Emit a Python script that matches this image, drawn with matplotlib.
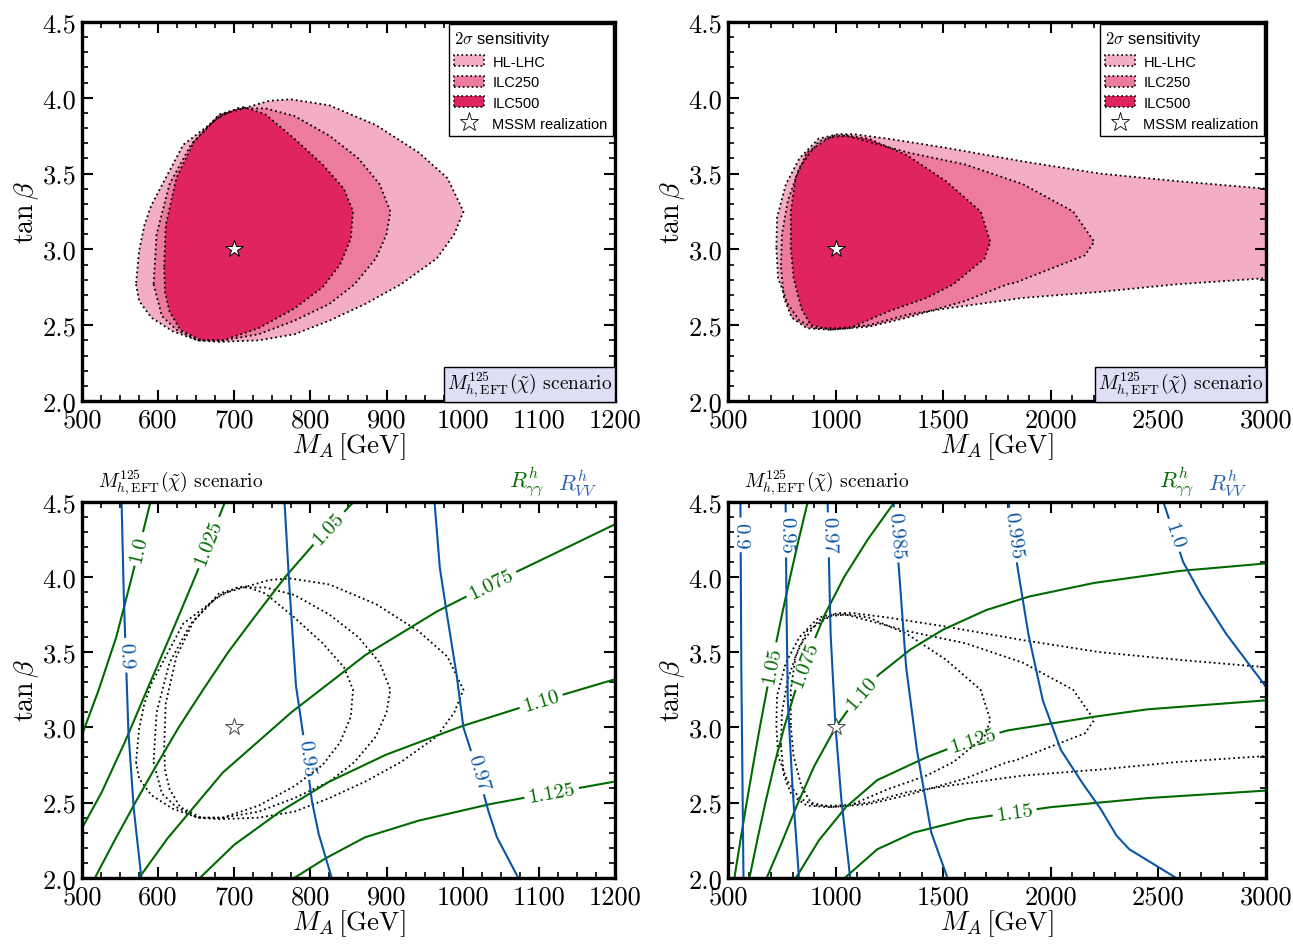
import numpy as np
import matplotlib
matplotlib.use('Agg')
import matplotlib.pyplot as plt
from matplotlib.patches import Polygon, Patch
from matplotlib.lines import Line2D
from matplotlib.contour import ContourSet
from matplotlib.ticker import MultipleLocator, FormatStrFormatter

plt.rcParams['font.family'] = 'serif'
plt.rcParams['font.serif'] = ['cmr10', 'DejaVu Serif']
plt.rcParams['mathtext.fontset'] = 'cm'
plt.rcParams['axes.formatter.use_mathtext'] = True

# colours
c_hl = '#f3adc4'
c_250 = '#ec7b9e'
c_500 = '#e0245f'
c_green = '#006a00'
c_blue = '#0a55a5'

# ---------------- data: MA = 700 GeV, tan(beta) = 3 ----------------
star_a = (700, 3.0)

hl_x_a = [571, 575, 591, 619, 652, 680, 732, 779, 825, 872, 919, 966, 989, 1001,
          980, 942, 886, 825, 774, 746, 685, 633, 591, 582, 575]
hl_y_a = [2.77, 2.66, 2.55, 2.46, 2.40, 2.39, 2.40, 2.44, 2.53, 2.64, 2.77, 2.94, 3.10, 3.25,
          3.47, 3.64, 3.82, 3.95, 3.99, 3.98, 3.89, 3.69, 3.29, 3.16, 2.99]

i250_x_a = [594, 605, 624, 652, 685, 732, 779, 825, 858, 886, 900, 905,
            891, 863, 825, 779, 741, 704, 676, 643, 615, 598]
i250_y_a = [2.77, 2.56, 2.47, 2.40, 2.40, 2.44, 2.53, 2.64, 2.77, 2.94, 3.10, 3.25,
            3.43, 3.60, 3.75, 3.88, 3.93, 3.93, 3.86, 3.69, 3.43, 3.10]

i500_x_a = [608, 609, 615, 629, 657, 685, 732, 779, 816, 839, 853, 856,
            844, 816, 779, 741, 713, 680, 647, 624, 610]
i500_y_a = [2.88, 2.72, 2.59, 2.47, 2.40, 2.40, 2.48, 2.61, 2.75, 2.90, 3.07, 3.25,
            3.40, 3.56, 3.73, 3.89, 3.94, 3.89, 3.71, 3.47, 3.16]

# R_gamgam and R_VV contour lines: level -> (MA values, tan(beta) values)
rgg_a = {
    1.0: ([590, 566, 545, 522, 500], [4.5, 4.01, 3.60, 3.25, 2.95]),
    1.025: ([688, 651, 622, 588, 557, 526, 500], [4.5, 4.03, 3.68, 3.28, 2.91, 2.57, 2.33]),
    1.05: ([857, 810, 767, 729, 692, 659, 627, 598, 570, 543, 517],
           [4.5, 4.25, 4.0, 3.75, 3.5, 3.25, 3.0, 2.75, 2.5, 2.25, 2.0]),
    1.075: ([1200, 1106, 1036, 966, 872, 775, 685, 612, 575],
            [4.35, 4.12, 3.95, 3.77, 3.48, 3.10, 2.70, 2.26, 2.0]),
    1.10: ([1200, 1100, 1000, 900, 825, 760, 700, 655], [3.32, 3.17, 3.01, 2.82, 2.64, 2.44, 2.22, 2.0]),
    1.125: ([1200, 1100, 1036, 942, 872, 820, 779], [2.64, 2.55, 2.49, 2.38, 2.27, 2.13, 2.0]),
}
rvv_a = {
    0.9: ([552, 555, 561, 568, 578], [4.5, 3.86, 2.97, 2.46, 2.0]),
    0.95: ([766, 772, 781, 792, 802, 811, 828], [4.5, 3.97, 3.28, 2.90, 2.51, 2.29, 2.0]),
    0.97: ([963, 970, 980, 992, 1001, 1020, 1034, 1045, 1073], [4.5, 4.06, 3.73, 3.35, 3.0, 2.70, 2.44, 2.27, 2.0]),
}
rgg_lab_a = [(572, 4.19), (666, 4.23), (825, 4.32), (1036, 3.97), (1102, 3.19), (1116, 2.59)]
rvv_lab_a = [(559, 3.48), (795, 2.80), (1020, 2.70)]

# ---------------- data: MA = 1000 GeV, tan(beta) = 3 ----------------
star_b = (1000, 3.0)

hl_x_b = [725, 733, 778, 832, 903, 1011, 1154, 1333, 1513, 1871, 2229, 2588, 3000,
          3000, 2588, 2229, 1871, 1513, 1244, 1082, 1011, 921, 832, 769, 728]
hl_y_b = [3.01, 2.81, 2.64, 2.53, 2.48, 2.48, 2.50, 2.57, 2.61, 2.68, 2.72, 2.77, 2.81,
          3.40, 3.45, 3.50, 3.58, 3.67, 3.73, 3.76, 3.76, 3.73, 3.60, 3.43, 3.21]

i250_x_b = [746, 760, 796, 867, 975, 1154, 1333, 1602, 1799, 1835, 1978, 2158, 2202,
            2104, 1871, 1602, 1333, 1154, 1047, 993, 921, 832, 778, 751]
i250_y_b = [2.88, 2.68, 2.55, 2.48, 2.47, 2.49, 2.55, 2.66, 2.77, 2.78, 2.86, 2.96, 3.05,
            3.25, 3.43, 3.56, 3.64, 3.71, 3.75, 3.75, 3.71, 3.54, 3.32, 3.10]

i500_x_b = [792, 805, 841, 885, 975, 1065, 1244, 1423, 1548, 1692, 1719,
            1674, 1513, 1333, 1154, 1056, 975, 867, 814, 792]
i500_y_b = [3.01, 2.81, 2.61, 2.50, 2.47, 2.48, 2.59, 2.68, 2.77, 2.94, 3.05,
            3.25, 3.45, 3.62, 3.73, 3.75, 3.74, 3.64, 3.47, 3.25]

rgg_b = {
    1.05: ([871, 829, 789, 751, 715, 681, 648, 617, 587, 558, 530],
           [4.5, 4.25, 4.0, 3.75, 3.5, 3.25, 3.0, 2.75, 2.5, 2.25, 2.0]),
    1.075: ([1275, 1150, 1040, 950, 878, 814, 761, 715, 674, 636, 600],
            [4.5, 4.25, 4.0, 3.75, 3.5, 3.25, 3.0, 2.75, 2.5, 2.25, 2.0]),
    1.10: ([3000, 2600, 2200, 1900, 1700, 1500, 1350, 1200, 1100, 1000, 900, 820, 740, 680],
           [4.09, 4.04, 3.96, 3.87, 3.78, 3.65, 3.52, 3.35, 3.20, 3.0, 2.74, 2.48, 2.20, 2.0]),
    1.125: ([3000, 2448, 2197, 1800, 1600, 1420, 1194, 1048, 923, 816],
            [3.18, 3.12, 3.07, 2.98, 2.90, 2.80, 2.65, 2.47, 2.25, 2.0]),
    1.15: ([3000, 2448, 2000, 1612, 1361, 1194, 1043], [2.58, 2.53, 2.47, 2.39, 2.30, 2.19, 2.0]),
}
rvv_b = {
    0.9: ([558, 562, 572], [4.5, 3.4, 2.0]),
    0.95: ([768, 772, 778, 800, 830], [4.5, 3.8, 3.18, 2.6, 2.0]),
    0.97: ([963, 977, 1000, 1027, 1068], [4.5, 3.62, 3.0, 2.52, 2.0]),
    0.985: ([1269, 1294, 1328, 1378, 1445, 1520], [4.5, 4.06, 3.40, 2.85, 2.30, 2.0]),
    0.995: ([1804, 1846, 1896, 1963, 2047, 2147, 2231, 2306, 2365, 2582],
            [4.5, 4.06, 3.62, 3.18, 2.85, 2.63, 2.46, 2.28, 2.19, 2.0]),
    1.0: ([2523, 2615, 2699, 2816, 3000], [4.5, 4.10, 3.88, 3.62, 3.27]),
}
rgg_lab_b = [(700, 3.42), (862, 3.42), (1127, 3.22), (1637, 2.93), (1830, 2.46)]
rvv_lab_b = [(560, 4.28), (772, 4.28), (968, 4.28), (1282, 4.28), (1828, 4.28), (2580, 4.28)]

scen_txt = r'$M_{h,\mathrm{EFT}}^{125}(\tilde{\chi})$ scenario'
lab_fmt = {0.9: '0.9', 0.95: '0.95', 0.97: '0.97', 0.985: '0.985', 0.995: '0.995', 1.0: '1.0',
           1.025: '1.025', 1.05: '1.05', 1.075: '1.075', 1.10: '1.10', 1.125: '1.125', 1.15: '1.15'}


def style_axes(ax, xmaj, xmin, xlim):
    ax.set_xlim(*xlim)
    ax.set_ylim(2.0, 4.5)
    ax.xaxis.set_major_locator(MultipleLocator(xmaj))
    ax.xaxis.set_minor_locator(MultipleLocator(xmin))
    ax.yaxis.set_major_locator(MultipleLocator(0.5))
    ax.yaxis.set_minor_locator(MultipleLocator(0.1))
    ax.xaxis.set_major_formatter(FormatStrFormatter('%d'))
    ax.yaxis.set_major_formatter(FormatStrFormatter('%.1f'))
    ax.tick_params(which='both', direction='in', top=True, right=True, labelsize=19)
    ax.tick_params(which='major', length=8, width=1.5)
    ax.tick_params(axis='x', which='major', pad=5)
    ax.tick_params(axis='y', which='major', pad=4)
    ax.tick_params(which='minor', length=4.5, width=1.2)
    for s in ax.spines.values():
        s.set_linewidth(2.4)
    ax.set_xlabel(r'$M_A\,[\mathrm{GeV}]$', fontsize=19.5, labelpad=-1)
    ax.set_ylabel(r'$\tan\beta$', fontsize=20, labelpad=1)


def regions(ax, xs, ys, fill=True):
    cols = [c_hl, c_250, c_500]
    for x, y, c in zip(xs, ys, cols):
        pts = np.column_stack([x, y])
        if fill:
            ax.add_patch(Polygon(pts, closed=True, fc=c, ec='none', zorder=1))
        ax.add_patch(Polygon(pts, closed=True, fill=False, ec='black', ls=':', lw=1.3, zorder=2))


def top_panel(ax, xs, ys, star, xmaj, xmin, xlim):
    regions(ax, xs, ys)
    ax.plot(*star, marker='*', ms=13, mfc='white', mec='black', mew=0.7, ls='none', zorder=5)
    style_axes(ax, xmaj, xmin, xlim)
    handles = [Patch(fc=c_hl, ec='black', ls=':', lw=1.2, label='HL-LHC'),
               Patch(fc=c_250, ec='black', ls=':', lw=1.2, label='ILC250'),
               Patch(fc=c_500, ec='black', ls=':', lw=1.2, label='ILC500'),
               Line2D([], [], marker='*', ms=14, mfc='white', mec='black', mew=0.6, ls='none',
                      label='MSSM realization')]
    leg = ax.legend(handles=handles, loc='upper right', title=r'$2\sigma$ sensitivity',
                    prop={'family': 'Liberation Sans', 'size': 10.5},
                    title_fontproperties={'family': 'Liberation Sans', 'size': 12},
                    alignment='left', fancybox=False, framealpha=1, edgecolor='black',
                    borderaxespad=0.15, handlelength=2.1, handleheight=0.8, borderpad=0.35,
                    labelspacing=0.45, handletextpad=0.55)
    leg.get_frame().set_linewidth(1.0)
    ax.text(0.995, 0.006, scen_txt, transform=ax.transAxes, ha='right', va='bottom', fontsize=14,
            bbox=dict(boxstyle='square,pad=0.15', fc='#dedef6', ec='black', lw=1.0), zorder=6)


def bottom_panel(ax, xs, ys, star, rgg, rvv, lab_g, lab_v, xmaj, xmin, xlim):
    regions(ax, xs, ys, fill=False)
    g_lev = sorted(rgg)
    cs_g = ContourSet(ax, g_lev, [[np.column_stack(rgg[l])] for l in g_lev],
                      colors=c_green, linewidths=1.5)
    v_lev = sorted(rvv)
    cs_v = ContourSet(ax, v_lev, [[np.column_stack(rvv[l])] for l in v_lev],
                      colors=c_blue, linewidths=1.5)
    ax.clabel(cs_g, fmt=lab_fmt, manual=lab_g, inline=True, fontsize=15, inline_spacing=4)
    ax.clabel(cs_v, fmt=lab_fmt, manual=lab_v, inline=True, fontsize=15, inline_spacing=4)
    ax.plot(*star, marker='*', ms=13, mfc='white', mec='#444444', mew=0.7, ls='none', zorder=5)
    style_axes(ax, xmaj, xmin, xlim)
    ax.text(0.03, 1.012, scen_txt, transform=ax.transAxes, ha='left', va='bottom', fontsize=14)
    ax.text(0.835, 1.012, r'$R^h_{\gamma\gamma}$', color=c_green, transform=ax.transAxes,
            ha='center', va='bottom', fontsize=16)
    ax.text(0.93, 1.012, r'$R^h_{VV}$', color='#2a62b0', transform=ax.transAxes,
            ha='center', va='bottom', fontsize=16)


fig = plt.figure(figsize=(12.93, 9.45), dpi=100)
ax1 = fig.add_axes([0.0634, 0.5746, 0.4122, 0.4011])
ax2 = fig.add_axes([0.5630, 0.5746, 0.4161, 0.4011])
ax3 = fig.add_axes([0.0634, 0.0700, 0.4122, 0.3980])
ax4 = fig.add_axes([0.5630, 0.0700, 0.4161, 0.3980])

xs_a = [hl_x_a, i250_x_a, i500_x_a]
ys_a = [hl_y_a, i250_y_a, i500_y_a]
xs_b = [hl_x_b, i250_x_b, i500_x_b]
ys_b = [hl_y_b, i250_y_b, i500_y_b]

top_panel(ax1, xs_a, ys_a, star_a, 100, 25, (500, 1200))
top_panel(ax2, xs_b, ys_b, star_b, 500, 100, (500, 3000))
bottom_panel(ax3, xs_a, ys_a, star_a, rgg_a, rvv_a, rgg_lab_a, rvv_lab_a, 100, 25, (500, 1200))
bottom_panel(ax4, xs_b, ys_b, star_b, rgg_b, rvv_b, rgg_lab_b, rvv_lab_b, 500, 100, (500, 3000))

fig.savefig('out.png', dpi=100)
